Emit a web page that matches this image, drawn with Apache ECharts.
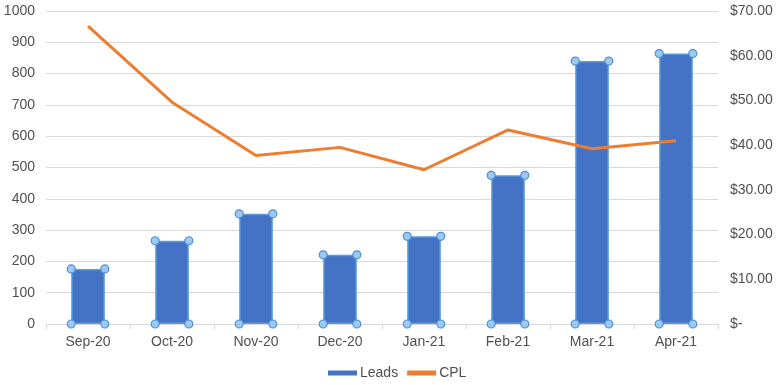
<!DOCTYPE html>
<html>
<head>
<meta charset="utf-8">
<script src="https://cdn.jsdelivr.net/npm/echarts@6/dist/echarts.min.js"></script>
<style>
html,body{margin:0;padding:0;background:#fff;}
#chart{width:780px;height:385px;}
</style>
</head>
<body>
<div id="chart"></div>
<script>
const categories = ['Sep-20','Oct-20','Nov-20','Dec-20','Jan-21','Feb-21','Mar-21','Apr-21'];
const leads = [176, 266, 352, 221, 280, 475, 840, 864];
const cpl = [66.6, 49.6, 37.7, 39.5, 34.5, 43.4, 39.2, 41.0];
const leftTicks = {min: 0, max: 1000, interval: 100};
const rightTicks = {min: 0, max: 70, interval: 10};

const chart = echarts.init(document.getElementById('chart'));
const FONT = 'Liberation Sans, Arial, sans-serif';
const TXT = '#505050';
const BAR_RATIO = 0.4;

const handleData = leads.map(function (v, i) { return [i, v]; });

chart.setOption({
  animation: false,
  textStyle: {fontFamily: FONT},
  grid: {left: 46, right: 62, top: 11, bottom: 61, containLabel: false},
  legend: {
    bottom: 0,
    left: 323,
    itemWidth: 29,
    itemHeight: 5,
    itemGap: 9,
    itemStyle: {borderWidth: 0},
    textStyle: {color: TXT, fontSize: 14, fontFamily: FONT, padding: [0, 0, 0, -2]},
    data: [{name: 'Leads', icon: 'rect'}, {name: 'CPL', icon: 'rect'}]
  },
  xAxis: {
    type: 'category',
    data: categories,
    boundaryGap: true,
    axisLine: {show: true, lineStyle: {color: '#d9d9d9', width: 1}},
    axisTick: {show: true, length: 5, lineStyle: {color: '#d9d9d9'}},
    axisLabel: {color: TXT, fontSize: 14, margin: 11, fontFamily: FONT}
  },
  yAxis: [
    {
      type: 'value',
      min: leftTicks.min, max: leftTicks.max, interval: leftTicks.interval,
      axisLine: {show: false},
      axisTick: {show: false},
      splitLine: {show: true, lineStyle: {color: '#d9d9d9', width: 1}},
      axisLabel: {color: TXT, fontSize: 14, margin: 11, fontFamily: FONT,
        formatter: function (v) { return String(v); }}
    },
    {
      type: 'value',
      min: rightTicks.min, max: rightTicks.max, interval: rightTicks.interval,
      axisLine: {show: false},
      axisTick: {show: false},
      splitLine: {show: false},
      axisLabel: {
        color: TXT, fontSize: 14, margin: 12, fontFamily: FONT,
        formatter: function (v) { return v === 0 ? '$-' : '$' + v.toFixed(2); }
      }
    }
  ],
  series: [
    {
      name: 'Leads',
      type: 'bar',
      data: leads,
      barWidth: (BAR_RATIO * 100) + '%',
      itemStyle: {color: '#4472C4', borderColor: '#5B9BD5', borderWidth: 1.5, borderRadius: 0},
      z: 2
    },
    {
      name: 'CPL',
      type: 'line',
      yAxisIndex: 1,
      data: cpl,
      symbol: 'none',
      lineStyle: {color: '#ED7D31', width: 3},
      itemStyle: {color: '#ED7D31'},
      z: 3
    },
    {
      name: 'handles',
      type: 'custom',
      data: handleData,
      encode: {x: 0, y: 1},
      z: 4,
      silent: true,
      renderItem: function (params, api) {
        const idx = api.value(0);
        const val = api.value(1);
        const top = api.coord([idx, val]);
        const base = api.coord([idx, 0]);
        const w = api.size([1, 0])[0] * BAR_RATIO;
        const xs = [top[0] - w / 2, top[0] + w / 2];
        const ys = [top[1], base[1]];
        const children = [];
        xs.forEach(function (x) {
          ys.forEach(function (y) {
            children.push({
              type: 'circle',
              shape: {cx: x, cy: y, r: 4},
              style: {fill: '#9DC8F0', stroke: '#4A90D9', lineWidth: 1.2}
            });
          });
        });
        return {type: 'group', children: children};
      }
    }
  ]
});
</script>
</body>
</html>
